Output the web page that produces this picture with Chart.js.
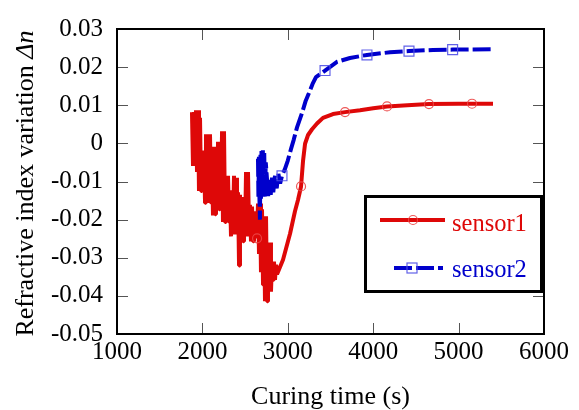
<!DOCTYPE html>
<html>
<head>
<meta charset="utf-8">
<script src="https://cdn.jsdelivr.net/npm/chart.js@4/dist/chart.umd.min.js"></script>
<style>
  html, body { margin: 0; padding: 0; background: #fff; }
</style>
</head>
<body>
<canvas id="chart" width="579" height="410"></canvas>
<script>
// curing time (s) and refractive index variation
const sensor1Time = [1878, 1890, 1902, 1913, 1925, 1937, 1949, 1960, 1972, 1984,
  1995, 2007, 2019, 2031, 2042, 2054, 2066, 2078, 2089, 2101,
  2112, 2124, 2136, 2148, 2159, 2171, 2183, 2195, 2206, 2218,
  2230, 2241, 2253, 2265, 2276, 2288, 2300, 2312, 2323, 2335,
  2347, 2358, 2370, 2382, 2394, 2405, 2417, 2429, 2440, 2452,
  2464, 2476, 2487, 2499, 2511, 2522, 2534, 2546, 2557, 2569,
  2581, 2593, 2604, 2616, 2628, 2639, 2651, 2663, 2675, 2686,
  2698, 2710, 2721, 2733, 2745, 2757, 2768, 2780, 2792, 2803,
  2815, 2827, 2838, 2850, 2862, 2874,
  2944, 3026, 3084, 3120, 3155, 3178, 3202, 3237, 3284, 3342,
  3412, 3529, 3670, 3846, 4000, 4162, 4400, 4653, 5000, 5403];
const sensor1Dn = [0.0082, -0.0059, 0.0082, -0.0059, 0.0087, -0.0075, 0.0087, -0.0125, 0.0067, -0.0125,
  -0.0019, -0.0125, -0.0027, -0.0156, 0.0024, -0.0156, 0.0024, -0.0136, 0.0024, -0.0156,
  -0.0027, -0.0189, -0.0009, -0.0186, -0.0009, -0.0173, 0.0004, -0.0173, 0.0004, -0.0161,
  0.0032, -0.0206, 0.0032, -0.0206, -0.0085, -0.0206, -0.0085, -0.0206, -0.0123, -0.0244,
  -0.0123, -0.0224, -0.0085, -0.0239, -0.0090, -0.0239, -0.0128, -0.0320, -0.0135, -0.0257,
  -0.0141, -0.0257, -0.0141, -0.0237, -0.0075, -0.0244, -0.0075, -0.0224, -0.0161, -0.0257,
  -0.0166, -0.0257, -0.0178, -0.0249, -0.0178, -0.0249, -0.0158, -0.0290, -0.0158, -0.0338,
  -0.0173, -0.0371, -0.0191, -0.0414, -0.0191, -0.0414, -0.0260, -0.0389, -0.0260, -0.0389,
  -0.0310, -0.0358, -0.0310, -0.0358, -0.0318, -0.0343,
  -0.0305, -0.0237, -0.0178, -0.0148, -0.0113, -0.0047, -0.0001, 0.0022, 0.0037, 0.0052,
  0.0067, 0.0077, 0.0082, 0.0087, 0.0092, 0.0097, 0.0100, 0.0103, 0.0104, 0.0104];

const sensor2Time = [2651, 2656, 2662, 2668, 2674, 2680, 2686, 2692, 2700, 2708,
  2716, 2724, 2733, 2742, 2756, 2770, 2785, 2800, 2815, 2830,
  2850, 2870, 2890, 2910, 2932, 2967, 3000, 3037, 3070, 3108,
  3167, 3210, 3248, 3290, 3330, 3436, 3576, 3728, 3927, 4197,
  4419, 4700, 4930, 5403];
const sensor2Dn = [-0.0040, -0.0140, -0.0035, -0.0145, -0.0200, -0.0030, -0.0145, -0.0020, -0.0140, -0.0018,
  -0.0145, -0.0025, -0.0140, -0.0050, -0.0092, -0.0138, -0.0092, -0.0135, -0.0090, -0.0128,
  -0.0085, -0.0118, -0.0080, -0.0105, -0.0085, -0.0067, -0.0045, -0.0015, 0.0010, 0.0042,
  0.0080, 0.0112, 0.0132, 0.0156, 0.0174, 0.0191, 0.0214, 0.0224, 0.0232, 0.0239,
  0.0242, 0.0245, 0.0246, 0.0247];

// marker positions on each curve
const sensor1MarkTime = [2640, 3155, 3670, 4162, 4653, 5157];
const sensor1MarkDn = [-0.0249, -0.0113, 0.0082, 0.0097, 0.0103, 0.0104];
const sensor2MarkTime = [2932, 3436, 3927, 4419, 4930];
const sensor2MarkDn = [-0.0085, 0.0191, 0.0232, 0.0242, 0.0246];

const xTicks = [1000, 2000, 3000, 4000, 5000, 6000];
const yTicks = [-0.05, -0.04, -0.03, -0.02, -0.01, 0, 0.01, 0.02, 0.03];
const seriesNames = ["sensor1", "sensor2"];

const RED = 'rgb(222,8,8)';
const BLUE = 'rgb(0,0,204)';
const FONT = "'Liberation Serif', 'Times New Roman', serif";

function pts(xs, ys) {
  return xs.map((v, i) => ({ x: v, y: ys[i] }));
}

const framePlugin = {
  id: 'frame',
  afterDraw(chart) {
    const ctx = chart.ctx;
    const a = chart.chartArea;
    const xs = chart.scales.x, ys = chart.scales.y;
    ctx.save();

    // inward ticks on all four sides
    ctx.strokeStyle = '#555';
    ctx.lineWidth = 1;
    ctx.beginPath();
    xTicks.forEach(v => {
      const px = Math.round(xs.getPixelForValue(v)) + 0.5;
      ctx.moveTo(px, a.bottom); ctx.lineTo(px, a.bottom - 11);
      ctx.moveTo(px, a.top); ctx.lineTo(px, a.top + 11);
    });
    yTicks.forEach(v => {
      const py = Math.round(ys.getPixelForValue(v)) + 0.5;
      ctx.moveTo(a.left, py); ctx.lineTo(a.left + 11, py);
      ctx.moveTo(a.right, py); ctx.lineTo(a.right - 11, py);
    });
    ctx.stroke();

    ctx.strokeStyle = '#000';
    ctx.lineWidth = 2;
    ctx.strokeRect(a.left, a.top, a.right - a.left, a.bottom - a.top);

    // legend box
    ctx.fillStyle = '#fff';
    ctx.fillRect(366, 197, 175, 94);
    ctx.lineWidth = 3;
    ctx.strokeRect(365.5, 196.5, 176, 95);

    ctx.lineWidth = 4;
    ctx.strokeStyle = RED;
    ctx.beginPath(); ctx.moveTo(380, 220); ctx.lineTo(445, 220); ctx.stroke();
    ctx.lineWidth = 1.2;
    ctx.strokeStyle = 'rgba(235,70,70,0.9)';
    ctx.beginPath(); ctx.arc(413, 220, 4.5, 0, Math.PI * 2); ctx.stroke();

    ctx.lineWidth = 4;
    ctx.strokeStyle = BLUE;
    ctx.setLineDash([18, 4]);
    ctx.beginPath(); ctx.moveTo(394, 268); ctx.lineTo(443, 268); ctx.stroke();
    ctx.setLineDash([]);
    ctx.lineWidth = 1.2;
    ctx.strokeStyle = 'rgba(80,80,230,0.9)';
    ctx.strokeRect(407, 263, 10, 10);

    ctx.font = '24.5px ' + FONT;
    ctx.textAlign = 'left';
    ctx.textBaseline = 'alphabetic';
    ctx.fillStyle = RED;
    ctx.fillText(seriesNames[0], 452, 231);
    ctx.fillStyle = BLUE;
    ctx.fillText(seriesNames[1], 452, 277);

    // axis titles
    ctx.fillStyle = '#000';
    ctx.textAlign = 'center';
    ctx.font = '26px ' + FONT;
    ctx.fillText('Curing time (s)', (a.left + a.right) / 2, 404);

    const t1 = 'Refractive index variation ';
    const t2 = '\u0394n';
    ctx.font = '26px ' + FONT;
    const w1 = ctx.measureText(t1).width;
    ctx.font = 'italic 26px ' + FONT;
    const w2 = ctx.measureText(t2).width;
    ctx.translate(33, (a.top + a.bottom) / 2 + 2);
    ctx.rotate(-Math.PI / 2);
    ctx.textAlign = 'left';
    const start = -(w1 + w2) / 2;
    ctx.font = '26px ' + FONT;
    ctx.fillText(t1, start, 0);
    ctx.font = 'italic 26px ' + FONT;
    ctx.fillText(t2, start + w1, 0);

    ctx.restore();
  }
};

new Chart(document.getElementById('chart'), {
  type: 'scatter',
  data: {
    datasets: [
      {
        label: seriesNames[0] + ' markers',
        data: pts(sensor1MarkTime, sensor1MarkDn),
        pointStyle: 'circle',
        pointRadius: 4.5,
        borderColor: 'rgba(235,70,70,0.9)',
        backgroundColor: 'rgba(255,255,255,0)',
        borderWidth: 1.2,
        order: 0
      },
      {
        label: seriesNames[1] + ' markers',
        data: pts(sensor2MarkTime, sensor2MarkDn),
        pointStyle: 'rect',
        pointRadius: 7,
        borderColor: 'rgba(80,80,230,0.9)',
        backgroundColor: 'rgba(255,255,255,0)',
        borderWidth: 1.2,
        order: 0
      },
      {
        label: seriesNames[1],
        data: pts(sensor2Time, sensor2Dn),
        showLine: true,
        borderColor: BLUE,
        borderWidth: 4,
        borderDash: [18, 4],
        borderJoinStyle: 'bevel',
        pointRadius: 0,
        tension: 0,
        order: 1
      },
      {
        label: seriesNames[0],
        data: pts(sensor1Time, sensor1Dn),
        showLine: true,
        borderColor: RED,
        borderWidth: 4,
        borderJoinStyle: 'bevel',
        pointRadius: 0,
        tension: 0,
        order: 2
      }
    ]
  },
  options: {
    responsive: false,
    animation: false,
    events: [],
    layout: { padding: { left: 0, top: 18, right: 35, bottom: 0 } },
    plugins: {
      legend: { display: false },
      tooltip: { enabled: false }
    },
    scales: {
      x: {
        type: 'linear',
        min: 1000,
        max: 6000,
        afterFit: s => { s.height = 76; },
        afterBuildTicks: s => { s.ticks = xTicks.map(v => ({ value: v })); },
        grid: { display: false, drawTicks: false },
        border: { display: false },
        ticks: {
          padding: 3,
          color: '#000',
          font: { family: FONT, size: 25 },
          maxRotation: 0,
          autoSkip: false,
          callback: v => String(v)
        }
      },
      y: {
        type: 'linear',
        min: -0.05,
        max: 0.03,
        afterFit: s => { s.width = 117; },
        afterBuildTicks: s => { s.ticks = yTicks.map(v => ({ value: v })); },
        grid: { display: false, drawTicks: false },
        border: { display: false },
        ticks: {
          padding: 14,
          color: '#000',
          font: { family: FONT, size: 25 },
          autoSkip: false,
          callback: v => String(Number(v.toFixed(2)))
        }
      }
    }
  },
  plugins: [framePlugin]
});
</script>
</body>
</html>
